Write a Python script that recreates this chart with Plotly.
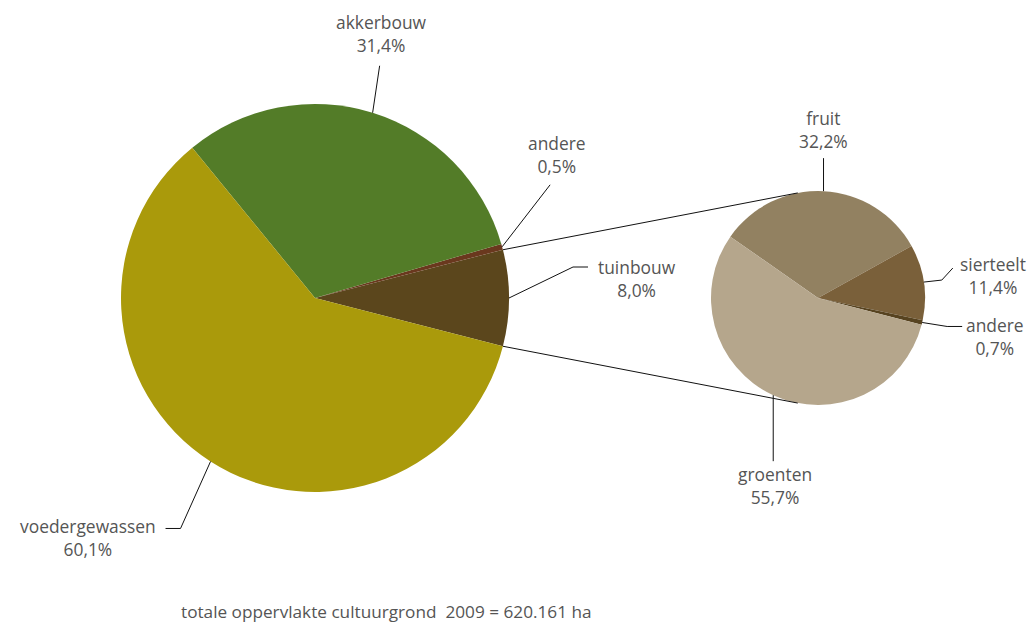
import math
import plotly.graph_objects as go

# ---------------- data ----------------
main_labels = ["tuinbouw", "andere", "akkerbouw", "voedergewassen"]
main_values = [8.0, 0.5, 31.4, 60.1]
main_colors = ["#5B461C", "#6A381E", "#537C28", "#AA9A0B"]

sub_labels = ["fruit", "sierteelt", "andere", "groenten"]
sub_values = [32.2, 11.4, 0.7, 55.7]
sub_colors = ["#928161", "#7A603A", "#574320", "#B5A68C"]

footnote = "totale oppervlakte cultuurgrond\u00a0 2009 = 620.161 ha"

# ---------------- layout geometry (pixels) ----------------
W, H = 1032, 625
MAIN_C, MAIN_R = (315.0, 298.0), 194.0
SUB_C, SUB_R = (818.0, 298.0), 107.0
MAIN_START = -main_values[0] / sum(main_values) * 180.0   # math degrees, counterclockwise
SUB_START = 145.0                                          # math degrees, clockwise

TEXT_COLOR = "#555555"
FONT = "Open Sans"
FSIZE = 17.4


def slice_angles(values, start, ccw):
    tot = sum(values)
    out, a = [], start
    for v in values:
        span = v / tot * 360.0
        b = a + span if ccw else a - span
        out.append((a, b))
        a = b
    return out


def pt(center, r, ang):
    return (center[0] + r * math.cos(math.radians(ang)),
            center[1] - r * math.sin(math.radians(ang)))


def fmt(v):
    return f"{v:.1f}".replace(".", ",") + "%"


def domain(center, r):
    return dict(x=[(center[0] - r) / W, (center[0] + r) / W],
                y=[1 - (center[1] + r) / H, 1 - (center[1] - r) / H])


main_span0 = main_values[0] / sum(main_values) * 360.0

fig = go.Figure()
fig.add_trace(go.Pie(labels=main_labels, values=main_values, sort=False,
                     direction="counterclockwise",
                     rotation=90 - MAIN_START - main_span0,
                     marker=dict(colors=main_colors, line=dict(width=0)),
                     textinfo="none", hoverinfo="label+percent",
                     domain=domain(MAIN_C, MAIN_R), showlegend=False))
fig.add_trace(go.Pie(labels=sub_labels, values=sub_values, sort=False,
                     direction="clockwise", rotation=90 - SUB_START,
                     marker=dict(colors=sub_colors, line=dict(width=0)),
                     textinfo="none", hoverinfo="label+percent",
                     domain=domain(SUB_C, SUB_R), showlegend=False))

shapes, annots = [], []
line = dict(color="#111111", width=1)

# connector lines: from edges of the 'tuinbouw' slice, tangent to the small pie
main_ang = slice_angles(main_values, MAIN_START, True)
for edge, sign in ((main_ang[0][1], 1), (main_ang[0][0], -1)):
    P = pt(MAIN_C, MAIN_R, edge)
    dx, dy = P[0] - SUB_C[0], -(P[1] - SUB_C[1])
    d = math.hypot(dx, dy)
    base = math.degrees(math.atan2(dy, dx))
    theta = math.degrees(math.acos(SUB_R / d))
    T = pt(SUB_C, SUB_R, base - sign * theta)
    shapes.append(dict(type="line", x0=P[0], y0=P[1], x1=T[0], y1=T[1], line=line))

# leader lines: relative elbow offsets and label offsets (styling)
main_leaders = {
    "tuinbouw": ([(64, -31), (15, 0)], (49, 11)),
    "andere": ([(48, -62)], (7, -30)),
    "akkerbouw": ([(7, -47)], (2, -32)),
    "voedergewassen": ([(-30, 67), (-15, 0)], (-78, 9)),
}
sub_leaders = {
    "fruit": ([(0, -33)], (0, -29)),
    "sierteelt": ([(18, -2), (11, -12)], (40, 7)),
    "andere": ([(25, 4), (15, 0)], (33, 10)),
    "groenten": ([(0, 66)], (2, 24)),
}

sub_ang = slice_angles(sub_values, SUB_START, False)
for labels, values, angs, center, r, leaders in (
        (main_labels, main_values, main_ang, MAIN_C, MAIN_R, main_leaders),
        (sub_labels, sub_values, sub_ang, SUB_C, SUB_R, sub_leaders)):
    for lab, val, (a, b) in zip(labels, values, angs):
        segs, toff = leaders[lab]
        x, y = pt(center, r, (a + b) / 2)
        for sdx, sdy in segs:
            shapes.append(dict(type="line", x0=x, y0=y, x1=x + sdx, y1=y + sdy, line=line))
            x, y = x + sdx, y + sdy
        annots.append(dict(x=x + toff[0], y=y + toff[1], xref="x", yref="y",
                           text=f"{lab}<br>{fmt(val)}", showarrow=False,
                           xanchor="center", yanchor="middle", align="center",
                           font=dict(family=FONT, size=FSIZE, color=TEXT_COLOR)))

annots.append(dict(x=179, y=611, xref="x", yref="y", text=footnote, showarrow=False,
                   xanchor="left", yanchor="middle",
                   font=dict(family=FONT, size=17.2, color=TEXT_COLOR)))

fig.update_layout(
    width=W, height=H, margin=dict(l=0, r=0, t=0, b=0),
    paper_bgcolor="white", plot_bgcolor="white",
    xaxis=dict(range=[0, W], visible=False, fixedrange=True),
    yaxis=dict(range=[H, 0], visible=False, fixedrange=True),
    shapes=shapes, annotations=annots, showlegend=False,
)

fig.write_html("out.html", config={"displayModeBar": False},
               post_script="document.body.style.margin='0';document.body.style.overflow='hidden';")
